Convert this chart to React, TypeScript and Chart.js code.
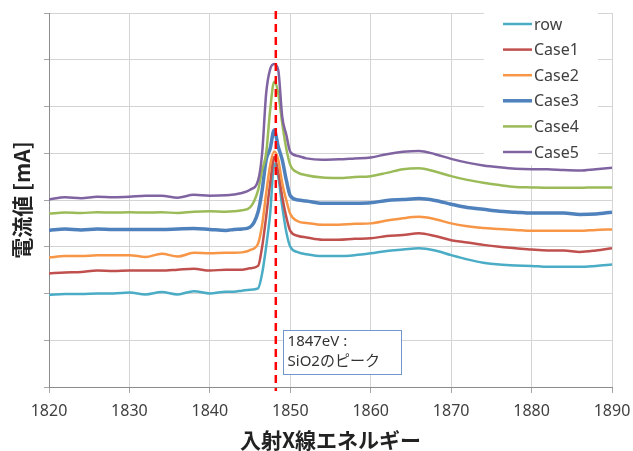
import React, { useEffect, useRef } from "react";
import { Chart, registerables } from "chart.js";

Chart.register(...registerables);

// Incident X-ray energy (eV)
const ENERGY = [
  1820, 1822, 1824, 1826, 1828, 1830, 1832, 1834, 1836, 1838, 1840, 1842,
  1843, 1844, 1845, 1846, 1846.5, 1847, 1847.5, 1848, 1848.5, 1849, 1849.5, 1850, 1851, 1852,
  1854, 1856, 1858, 1860, 1862, 1864, 1866, 1868, 1870, 1872, 1874, 1876, 1878, 1880, 1882, 1884, 1886, 1888, 1890,
];

const SERIES_LABELS = ["row", "Case1", "Case2", "Case3", "Case4", "Case5"];
const SERIES_COLORS = ["#4BACC6", "#C0504D", "#F79646", "#4F81BD", "#9BBB59", "#8064A2"];
const SERIES_WIDTHS = [2.5, 2.5, 2.5, 3.5, 2.5, 2.5];

const ROW = [
  1.97, 1.99, 1.99, 2.0, 2.0, 2.02, 1.98, 2.03, 1.98, 2.05, 2.0, 2.04,
  2.04, 2.06, 2.08, 2.11, 2.43, 3.0, 3.71, 4.78, 4.5, 3.86, 3.32, 3.0, 2.88, 2.84,
  2.8, 2.8, 2.82, 2.86, 2.91, 2.94, 2.97, 2.92, 2.82, 2.73, 2.66, 2.62, 2.6, 2.59, 2.57, 2.57, 2.57, 2.59, 2.62,
];
const CASE1 = [
  2.43, 2.45, 2.46, 2.49, 2.48, 2.49, 2.49, 2.49, 2.51, 2.53, 2.49, 2.51,
  2.51, 2.51, 2.54, 2.59, 3.0, 3.64, 4.36, 4.92, 4.6, 4.07, 3.64, 3.34, 3.23, 3.2,
  3.15, 3.15, 3.17, 3.18, 3.23, 3.25, 3.29, 3.23, 3.14, 3.09, 3.04, 3.0, 2.97, 2.94, 2.92, 2.92, 2.89, 2.92, 2.97,
];
const CASE2 = [
  2.77, 2.8, 2.8, 2.82, 2.82, 2.82, 2.78, 2.85, 2.79, 2.87, 2.86, 2.87,
  2.87, 2.88, 2.93, 3.07, 3.47, 4.14, 4.75, 5.04, 4.86, 4.36, 4.0, 3.7, 3.54, 3.51,
  3.47, 3.47, 3.49, 3.5, 3.56, 3.61, 3.64, 3.59, 3.5, 3.44, 3.4, 3.38, 3.36, 3.34, 3.34, 3.34, 3.34, 3.36, 3.37,
];
const CASE3 = [
  3.35, 3.38, 3.36, 3.38, 3.37, 3.37, 3.37, 3.37, 3.38, 3.39, 3.37, 3.35,
  3.37, 3.38, 3.42, 3.75, 4.21, 4.86, 5.1, 5.5, 5.14, 4.86, 4.43, 4.09, 4.0, 3.98,
  3.93, 3.93, 3.93, 3.94, 3.99, 4.01, 4.03, 3.99, 3.91, 3.84, 3.8, 3.76, 3.74, 3.72, 3.72, 3.72, 3.69, 3.7, 3.74,
];
const CASE4 = [
  3.71, 3.73, 3.72, 3.74, 3.73, 3.74, 3.73, 3.74, 3.72, 3.75, 3.76, 3.75,
  3.76, 3.78, 3.84, 4.21, 4.64, 5.0, 5.93, 6.53, 6.29, 5.64, 5.1, 4.75, 4.58, 4.53,
  4.48, 4.47, 4.49, 4.51, 4.58, 4.66, 4.68, 4.61, 4.51, 4.43, 4.37, 4.32, 4.28, 4.27, 4.26, 4.26, 4.26, 4.27, 4.27,
];
const CASE5 = [
  4.01, 4.06, 4.04, 4.07, 4.06, 4.07, 4.09, 4.09, 4.05, 4.11, 4.09, 4.1,
  4.12, 4.15, 4.22, 4.42, 5.0, 6.28, 6.8, 6.91, 6.78, 5.78, 5.4, 5.03, 4.94, 4.89,
  4.86, 4.87, 4.89, 4.91, 4.98, 5.03, 5.05, 4.98, 4.88, 4.8, 4.74, 4.7, 4.67, 4.66, 4.66, 4.64, 4.63, 4.66, 4.69,
];
const SERIES = [ROW, CASE1, CASE2, CASE3, CASE4, CASE5];

const X_MIN = 1820;
const X_MAX = 1890;
const X_STEP = 10;
const Y_MIN = 0;
const Y_MAX = 8;
const Y_STEP = 1;

const PEAK_LINE_ENERGY = 1848.2;
const NOTE_LINES = ["1847eV :", "SiO2のピーク"];
const X_TITLE = "入射X線エネルギー";
const Y_TITLE = "電流値 [mA]";

const LATIN = '"Noto Sans", "Noto Sans CJK JP", sans-serif';
const CJK = '"Noto Sans CJK JP", "Noto Sans", sans-serif';

const legendBoxPlugin = {
  id: "legendBox",
  beforeDatasetsDraw(chart: any) {
    const { ctx, chartArea } = chart;
    ctx.save();
    ctx.fillStyle = "#FFFFFF";
    ctx.fillRect(chartArea.right - 128, chartArea.top - 2, 114, 154);
    ctx.restore();
  },
  afterDatasetsDraw(chart: any) {
    const { ctx, chartArea } = chart;
    ctx.save();
    chart.data.datasets.forEach((ds: any, i: number) => {
      const y = chartArea.top + 11 + i * 25.6;
      const x0 = chartArea.right - 109;
      ctx.strokeStyle = ds.borderColor;
      ctx.lineWidth = ds.borderWidth;
      ctx.beginPath();
      ctx.moveTo(x0, y);
      ctx.lineTo(x0 + 29, y);
      ctx.stroke();
      ctx.fillStyle = "#404040";
      ctx.font = `16px ${LATIN}`;
      ctx.textBaseline = "middle";
      ctx.textAlign = "left";
      ctx.fillText(ds.label, x0 + 31, y + 1);
    });
    ctx.restore();
  },
};

const peakLinePlugin = {
  id: "peakLine",
  afterDatasetsDraw(chart: any) {
    const { ctx, chartArea, scales } = chart;
    const x = scales.x.getPixelForValue(PEAK_LINE_ENERGY);
    ctx.save();
    ctx.strokeStyle = "#FF0000";
    ctx.lineWidth = 2.5;
    ctx.setLineDash([8, 5]);
    ctx.beginPath();
    ctx.moveTo(x, chartArea.top - 2);
    ctx.lineTo(x, chartArea.bottom + 4);
    ctx.stroke();
    ctx.restore();

    // annotation box
    const left = scales.x.getPixelForValue(1849.1);
    const right = scales.x.getPixelForValue(1863.8);
    const top = scales.y.getPixelForValue(1.22);
    const bottom = scales.y.getPixelForValue(0.28);
    ctx.save();
    ctx.fillStyle = "#FFFFFF";
    ctx.fillRect(left, top, right - left, bottom - top);
    ctx.strokeStyle = "#7196CC";
    ctx.lineWidth = 1;
    ctx.strokeRect(Math.round(left) + 0.5, Math.round(top) + 0.5, Math.round(right - left), Math.round(bottom - top));
    ctx.fillStyle = "#333333";
    ctx.font = `15px ${LATIN}`;
    ctx.textBaseline = "middle";
    ctx.textAlign = "left";
    NOTE_LINES.forEach((t, i) => ctx.fillText(t, left + 4.5, top + 12 + i * 20));
    ctx.restore();
  },
};

export default function App() {
  const ref = useRef<HTMLCanvasElement>(null);
  useEffect(() => {
    document.body.style.margin = "0";
    const datasets = SERIES.map((vals, i) => ({
      label: SERIES_LABELS[i],
      data: ENERGY.map((e, j) => ({ x: e, y: vals[j] })),
      borderColor: SERIES_COLORS[i],
      backgroundColor: SERIES_COLORS[i],
      borderWidth: SERIES_WIDTHS[i],
      pointRadius: 0,
      fill: false,
      cubicInterpolationMode: "monotone" as const,
      order: SERIES.length - i,
    }));
    const chart = new Chart(ref.current!, {
      type: "line",
      data: { datasets },
      plugins: [legendBoxPlugin, peakLinePlugin],
      options: {
        responsive: false,
        animation: false,
        layout: { padding: { top: 13, right: 21, left: 0, bottom: 0 } },
        plugins: { legend: { display: false }, tooltip: { enabled: false } },
        scales: {
          x: {
            type: "linear",
            min: X_MIN,
            max: X_MAX,
            afterFit: (s: any) => { s.height = 64; },
            ticks: {
              stepSize: X_STEP,
              color: "#404040",
              font: { family: LATIN, size: 16, lineHeight: 2.1 },
              padding: 2,
              maxRotation: 0,
              callback: (v: any) => String(v),
            },
            grid: { color: "#D4D4D4", lineWidth: 1, tickLength: 6, tickColor: "#A6A6A6" },
            border: { color: "#8C8C8C", width: 1 },
            title: {
              display: true,
              text: X_TITLE,
              color: "#222222",
              font: { family: CJK, size: 21, weight: "bold", lineHeight: 1 },
              padding: 0,
            },
          },
          y: {
            type: "linear",
            min: Y_MIN,
            max: Y_MAX,
            afterFit: (s: any) => { s.width = 49; },
            ticks: { stepSize: Y_STEP, display: false },
            grid: { color: "#D4D4D4", lineWidth: 1, tickLength: 5, tickColor: "#A6A6A6" },
            border: { color: "#8C8C8C", width: 1 },
            title: {
              display: true,
              text: Y_TITLE,
              color: "#222222",
              font: { family: CJK, size: 21, weight: "bold", lineHeight: 1.2 },
              padding: { top: 9, bottom: 0 },
            },
          },
        },
      },
    });
    return () => chart.destroy();
  }, []);
  return (
    <div style={{ width: 633, height: 451 }}>
      <canvas ref={ref} width={633} height={451} style={{ display: "block" }} />
    </div>
  );
}
